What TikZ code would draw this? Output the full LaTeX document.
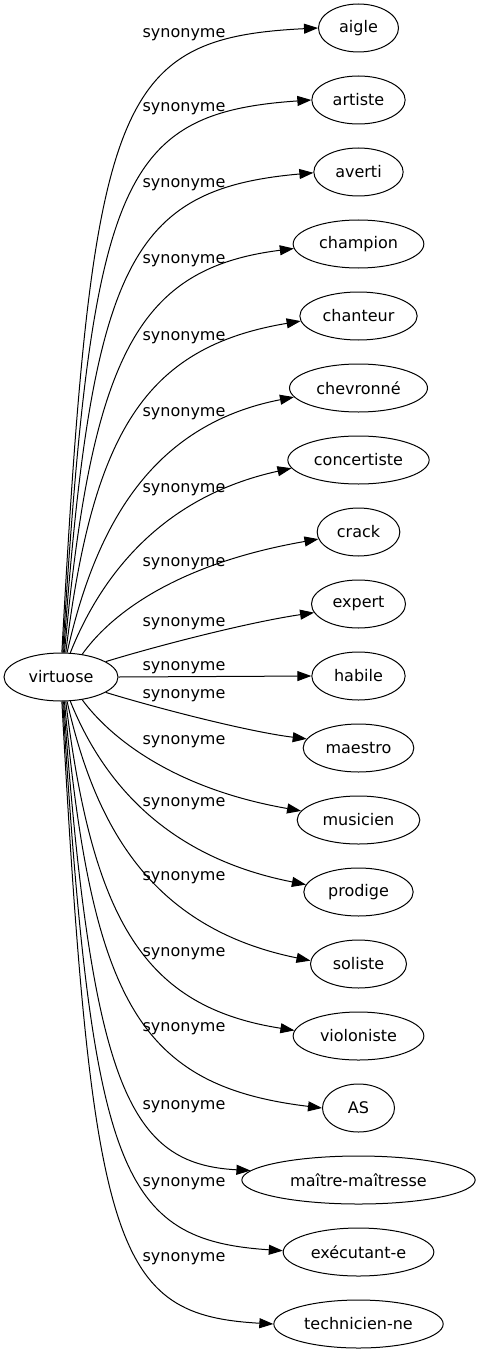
\documentclass[tikz,border=0pt]{standalone}
\usepackage{fontspec}
\setmainfont{DejaVu Sans}
\usepackage{tikz}
\usetikzlibrary{shapes.geometric, arrows.meta, positioning}
\tikzstyle{syn} = [ellipse, minimum height=36pt, inner sep=0pt, text centered, draw=black, line width=0.75pt, font=\fontsize{12}{14}\selectfont]
\tikzstyle{lab} = [anchor=base, inner sep=0pt, font=\fontsize{12}{14}\selectfont]
\tikzstyle{arrow} = [line width=0.75pt, ->, >={Triangle[length=10.5pt,width=7.5pt]}]

\begin{document}
\begin{tikzpicture}[x=0.75pt, y=0.75pt, node distance=54pt]
		\useasboundingbox (0,0) rectangle (480,-1355);
		\node (virtuose) [syn, minimum width=85.5pt] at (61,-677) {virtuose};
		\node (aigle) [syn, minimum width=60pt] at (358.5,-28) {aigle};
		\node (artiste) [syn, below of=aigle, minimum width=70pt] {artiste};
		\node (averti) [syn, below of=artiste, minimum width=67pt] {averti};
		\node (champion) [syn, below of=averti, minimum width=98pt] {champion};
		\node (chanteur) [syn, below of=champion, minimum width=88pt] {chanteur};
		\node (chevronne) [syn, below of=chanteur, minimum width=103.5pt] {chevronné};
		\node (concertiste) [syn, below of=chevronne, minimum width=106pt] {concertiste};
		\node (crack) [syn, below of=concertiste, minimum width=62pt] {crack};
		\node (expert) [syn, below of=crack, minimum width=70.5pt] {expert};
		\node (habile) [syn, below of=expert, minimum width=70pt] {habile};
		\node (maestro) [syn, below of=habile, minimum width=83pt] {maestro};
		\node (musicien) [syn, below of=maestro, minimum width=92pt] {musicien};
		\node (prodige) [syn, below of=musicien, minimum width=82pt] {prodige};
		\node (soliste) [syn, below of=prodige, minimum width=72pt] {soliste};
		\node (violoniste) [syn, below of=soliste, minimum width=98pt] {violoniste};
		\node (as) [syn, below of=violoniste, minimum width=54pt] {AS};
		\node (maitre) [syn, below of=as, minimum width=175pt] {maître-maîtresse};
		\node (executant) [syn, below of=maitre, minimum width=113pt] {exécutant-e};
		\node (technicien) [syn, below of=executant, minimum width=127pt] {technicien-ne};
		\node (s1) [lab] at (184,-37.5) {synonyme};
		\node (s2) [lab] at (184,-111.5) {synonyme};
		\node (s3) [lab] at (184,-187.5) {synonyme};
		\node (s4) [lab] at (184,-263.5) {synonyme};
		\node (s5) [lab] at (184,-340.5) {synonyme};
		\node (s6) [lab] at (184,-416.5) {synonyme};
		\node (s7) [lab] at (184,-492.5) {synonyme};
		\node (s8) [lab] at (184,-566.5) {synonyme};
		\node (s9) [lab] at (184,-626.5) {synonyme};
		\node (s10) [lab] at (184,-670.5) {synonyme};
		\node (s11) [lab] at (184,-698.5) {synonyme};
		\node (s12) [lab] at (184,-744.5) {synonyme};
		\node (s13) [lab] at (184,-806.5) {synonyme};
		\node (s14) [lab] at (184,-880.5) {synonyme};
		\node (s15) [lab] at (184,-956.5) {synonyme};
		\node (s16) [lab] at (184,-1031.5) {synonyme};
		\node (s17) [lab] at (184,-1109.5) {synonyme};
		\node (s18) [lab] at (184,-1186.5) {synonyme};
		\node (s19) [lab] at (184,-1261.5) {synonyme};
		\draw [arrow] (virtuose.88) .. controls (92,-100) and (115,-38) .. (aigle.west);
		\draw [arrow] (virtuose.86) .. controls (92,-181) and (120,-113) .. (artiste.west);
		\draw [arrow] (virtuose.84) .. controls (92,-263) and (130,-189) .. (averti.181);
		\draw [arrow] (virtuose.82) .. controls (92,-351) and (140,-268) .. (champion.184);
		\draw [arrow] (virtuose.79) .. controls (93,-432) and (145,-347) .. (chanteur.185);
		\draw [arrow] (virtuose.76) .. controls (95,-528) and (150,-425) .. (chevronne.188);
		\draw [arrow] (virtuose.69) .. controls (100,-578) and (160,-497) .. (concertiste.187);
		\draw [arrow] (virtuose.47) .. controls (108,-618) and (170,-565) .. (crack.190);
		\draw [arrow] (virtuose.19) .. controls (160,-645) and (250,-622) .. (expert.191);
		\draw [arrow] (virtuose.east) -- (habile.west);
		\draw [arrow] (virtuose.-19) .. controls (160,-709) and (250,-732) .. (maestro.170);
		\draw [arrow] (virtuose.-47) .. controls (108,-735) and (170,-788) .. (musicien.171);
		\draw [arrow] (virtuose.-69) .. controls (100,-775) and (160,-856) .. (prodige.172);
		\draw [arrow] (virtuose.-76) .. controls (95,-825) and (150,-928) .. (soliste.176);
		\draw [arrow] (virtuose.-79) .. controls (93,-922) and (145,-1007) .. (violoniste.175);
		\draw [arrow] (virtuose.-82) .. controls (92,-1003) and (140,-1086) .. (as.west);
		\draw [arrow] (virtuose.-84) .. controls (92,-1090) and (130,-1164) .. (maitre.175);
		\draw [arrow] (virtuose.-86) .. controls (92,-1172) and (120,-1240) .. (executant.179);
		\draw [arrow] (virtuose.-88) .. controls (92,-1253) and (115,-1315) .. (technicien.west);
		\end{tikzpicture}
\end{document}
